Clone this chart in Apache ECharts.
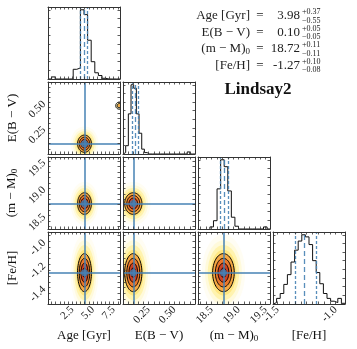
<!DOCTYPE html>
<html>
<head>
<meta charset="utf-8">
<script src="https://cdn.jsdelivr.net/npm/echarts@6/dist/echarts.min.js"></script>
<style>
  html, body { margin: 0; padding: 0; background: #fff; }
  #chart { width: 357px; height: 349px; }
</style>
</head>
<body>
<div id="chart"></div>
<script>
// parameters of the fit
const paramNames = ['Age [Gyr]', 'E(B − V)', '(m − M){sub|0}', '[Fe/H]']
const axisMin = [-0.43, 0, 18.25, -1.54]
const axisMax = [8.27, 0.7, 19.58, -0.92]
const xLabelTicks = [[2.5, 5.0, 7.5], [0.25, 0.5], [18.5, 19.0, 19.5], [-1.5, -1.0]]
const yLabelTicks = [[], [0.25, 0.5], [18.5, 19.0, 19.5], [-1.4, -1.2, -1.0]]
const labelDecimals = [1, 2, 1, 1]
const minorStep = [0.5, 0.05, 0.1, 0.05]

const medians = [3.98, 0.10, 18.72, -1.27]
const errPlus = [0.37, 0.05, 0.11, 0.10]
const errMinus = [0.55, 0.05, 0.11, 0.08]
const truths = [3.98, 0.10, 18.72, -1.27]
// dashed lines on the histograms (16 / 50 / 84 %)
const quantiles = [[3.43, 3.98, 4.35], [0.09, 0.12, 0.155], [18.66, 18.73, 18.80], [-1.35, -1.27, -1.17]]

// 1d histograms: first bin edge, bin width, counts
const histStart = [-0.43, 0, 18.47, -1.54]
const histWidth = [0.435, 0.026, 0.066, 0.031]
const ageCounts = [0, 3, 0, 0, 0, 0, 0, 14, 16, 100, 93, 56, 25, 9, 5, 1, 0, 0, 0, 0]
const ebvCounts = [2, 12, 58, 100, 95, 58, 30, 7, 2, 0, 0, 0, 0, 0, 0, 0, 0, 0, 0, 0, 0, 0, 0, 0, 3, 0, 0]
const dmCounts = [3, 12, 58, 100, 90, 55, 17, 4, 0, 0, 0, 0, 0, 0, 0, 3, 0]
const fehCounts = [2, 8, 15, 28, 42, 60, 77, 90, 99, 96, 85, 62, 45, 29, 15, 8, 4, 2, 8, 1]
const histCounts = [ageCounts, ebvCounts, dmCounts, fehCounts]

// 2d contours: sigma of each parameter, contour levels in sigma
const contourSigma = [0.42, 0.042, 0.10, 0.082]
const contourLevels = [2, 1.5, 1, 0.5]
// small secondary island in the Age / E(B-V) panel: [age, ebv, sigmaAge, sigmaEbv]
const ageEbvIsland = [8.2, 0.47, 0.45, 0.035]

const serif = 'Liberation Serif'
const frame = '#333'
const blue = '#4682b4'
const subRich = { sub: { fontSize: 9, fontFamily: serif, color: '#111', verticalAlign: 'bottom', padding: [5, 0, 0, 0] } }

function ticksOf(min, max, step) {
  const out = []
  for (let v = Math.ceil(min / step - 1e-9) * step; v <= max + 1e-9; v += step) out.push(+v.toFixed(5))
  return out
}

function makeAxis(g, pos, min, max, tickVals, labelVals, dec, showLabel, name) {
  const horiz = pos === 'bottom' || pos === 'top'
  return {
    type: 'value', gridIndex: g, position: pos, min: min, max: max, z: 5,
    axisLine: { show: true, onZero: false, lineStyle: { color: frame, width: 1 } },
    splitLine: { show: false },
    axisTick: { show: true, inside: true, length: 2.5, customValues: tickVals, lineStyle: { color: frame, width: 0.8 } },
    axisLabel: {
      show: showLabel, customValues: labelVals, rotate: 45, margin: 4,
      formatter: v => v.toFixed(dec), fontFamily: serif, fontSize: 11, color: '#222'
    },
    name: name || '', nameLocation: 'middle', nameGap: horiz ? 25 : 29,
    nameRotate: horiz ? 0 : 90,
    nameTextStyle: { fontFamily: serif, fontSize: 13, color: '#111', rich: subRich }
  }
}

// ellipse outline in data space, mapped through the axes
function ellipse(api, cx, cy, sx, sy, s) {
  const pts = []
  for (let k = 0; k < 64; k++) {
    const t = k / 64 * Math.PI * 2
    pts.push(api.coord([cx + s * sx * Math.cos(t), cy + s * sy * Math.sin(t)]))
  }
  return pts
}

const glowFill = [[4.0, '#fffdf3'], [3.4, '#fffadb'], [2.9, '#fff3ae'], [2.4, '#ffe680']]
const bandFill = ['#f5a843', '#ea772b', '#cd4224', '#9e1d1d']

function renderDensity(params, api) {
  const cx = api.value(0), cy = api.value(1), sx = api.value(2), sy = api.value(3)
  const children = []
  glowFill.forEach(([s, c]) => {
    children.push({ type: 'polygon', shape: { points: ellipse(api, cx, cy, sx, sy, s) }, style: { fill: c } })
  })
  contourLevels.forEach((s, k) => {
    children.push({ type: 'polygon', shape: { points: ellipse(api, cx, cy, sx, sy, s) }, style: { fill: bandFill[k], stroke: '#000', lineWidth: 1 } })
  })
  return { type: 'group', children: children }
}

function renderIsland(params, api) {
  const cx = api.value(0), cy = api.value(1), sx = api.value(2), sy = api.value(3)
  return {
    type: 'group',
    children: [1, 0.6].map(s => ({
      type: 'polygon', shape: { points: ellipse(api, cx, cy, sx, sy, s) },
      style: { fill: s === 1 ? '#fff7c8' : '#f2b04c', stroke: '#000', lineWidth: 1 }
    }))
  }
}

const grids = [], xAxes = [], yAxes = [], series = []

for (let i = 0; i < 4; i++) {
  for (let j = 0; j <= i; j++) {
    const g = grids.length
    grids.push({ left: 48 + 75 * j, top: 7 + 75 * i, width: 72, height: 72, show: false })
    const xTicks = ticksOf(axisMin[j], axisMax[j], minorStep[j])
    const bottomRow = i === 3
    xAxes.push(makeAxis(g, 'bottom', axisMin[j], axisMax[j], xTicks, xLabelTicks[j], labelDecimals[j], bottomRow, bottomRow ? paramNames[j] : ''))
    xAxes.push(makeAxis(g, 'top', axisMin[j], axisMax[j], xTicks, [], labelDecimals[j], false, ''))

    if (i === j) {
      const counts = histCounts[i]
      const top = Math.max(...counts)
      const yMax = top * 1.04
      const yTicks = ticksOf(0, yMax, top / 8)
      yAxes.push(makeAxis(g, 'left', 0, yMax, yTicks, [], 0, false, ''))
      yAxes.push(makeAxis(g, 'right', 0, yMax, yTicks, [], 0, false, ''))
      const s0 = histStart[i], w = histWidth[i]
      const pts = [[s0, 0]]
      counts.forEach((c, k) => { pts.push([s0 + k * w, c], [s0 + (k + 1) * w, c]) })
      pts.push([s0 + counts.length * w, 0])
      series.push({
        type: 'line', xAxisIndex: 2 * g, yAxisIndex: 2 * g, data: pts, showSymbol: false,
        lineStyle: { color: '#111', width: 1 }, clip: true, silent: true, z: 3,
        markLine: {
          silent: true, symbol: 'none', label: { show: false },
          data: quantiles[i].map((q, k) => ({
            xAxis: q,
            lineStyle: { color: blue, width: 1.3, type: k === 1 ? [5, 3] : [3, 2], opacity: 0.9 }
          }))
        }
      })
    } else {
      const yTicks = ticksOf(axisMin[i], axisMax[i], minorStep[i])
      const leftCol = j === 0
      yAxes.push(makeAxis(g, 'left', axisMin[i], axisMax[i], yTicks, yLabelTicks[i], labelDecimals[i], leftCol, leftCol ? paramNames[i] : ''))
      yAxes.push(makeAxis(g, 'right', axisMin[i], axisMax[i], yTicks, [], labelDecimals[i], false, ''))
      series.push({
        type: 'custom', xAxisIndex: 2 * g, yAxisIndex: 2 * g, clip: true, silent: true, z: 1,
        renderItem: renderDensity,
        data: [[medians[j], medians[i], contourSigma[j], contourSigma[i]]]
      })
      if (i === 1 && j === 0) {
        series.push({
          type: 'custom', xAxisIndex: 2 * g, yAxisIndex: 2 * g, clip: true, silent: true, z: 1,
          renderItem: renderIsland, data: [ageEbvIsland]
        })
      }
      series.push({
        type: 'scatter', xAxisIndex: 2 * g, yAxisIndex: 2 * g, silent: true, z: 4,
        symbolSize: 7, itemStyle: { color: blue },
        data: [[truths[j], truths[i]]],
        markLine: {
          silent: true, symbol: 'none', label: { show: false },
          lineStyle: { color: blue, width: 1.5, type: 'solid' },
          data: [{ xAxis: truths[j] }, { yAxis: truths[i] }]
        }
      })
    }
  }
}

// summary text in the upper right
const rowY = [16, 32.5, 49, 65.5]
const graphic = []
rowY.forEach((y, k) => {
  const base = { fontFamily: serif, fontSize: 13, fill: '#222' }
  graphic.push({ type: 'text', x: 250, y: y, style: Object.assign({ text: paramNames[k], align: 'right', textAlign: 'right', verticalAlign: 'middle', textVerticalAlign: 'middle', rich: subRich }, base) })
  graphic.push({ type: 'text', x: 260, y: y, style: Object.assign({ text: '=', align: 'center', textAlign: 'center', verticalAlign: 'middle', textVerticalAlign: 'middle' }, base) })
  graphic.push({ type: 'text', x: 300, y: y, style: Object.assign({ text: medians[k].toFixed(2), align: 'right', textAlign: 'right', verticalAlign: 'middle', textVerticalAlign: 'middle' }, base) })
  graphic.push({ type: 'text', x: 302, y: y - 4, style: { text: '+' + errPlus[k].toFixed(2), fontFamily: serif, fontSize: 8, fill: '#222', align: 'left', textAlign: 'left', verticalAlign: 'middle', textVerticalAlign: 'middle' } })
  graphic.push({ type: 'text', x: 302, y: y + 4.5, style: { text: '−' + errMinus[k].toFixed(2), fontFamily: serif, fontSize: 8, fill: '#222', align: 'left', textAlign: 'left', verticalAlign: 'middle', textVerticalAlign: 'middle' } })
})
graphic.push({ type: 'text', x: 258, y: 90, style: { text: 'Lindsay2', fontFamily: serif, fontSize: 17, fontWeight: 'bold', fill: '#111', align: 'center', textAlign: 'center', verticalAlign: 'middle', textVerticalAlign: 'middle' } })

const chart = echarts.init(document.getElementById('chart'))
chart.setOption({
  animation: false,
  backgroundColor: '#fff',
  grid: grids,
  xAxis: xAxes,
  yAxis: yAxes,
  series: series,
  graphic: graphic
})
</script>
</body>
</html>
